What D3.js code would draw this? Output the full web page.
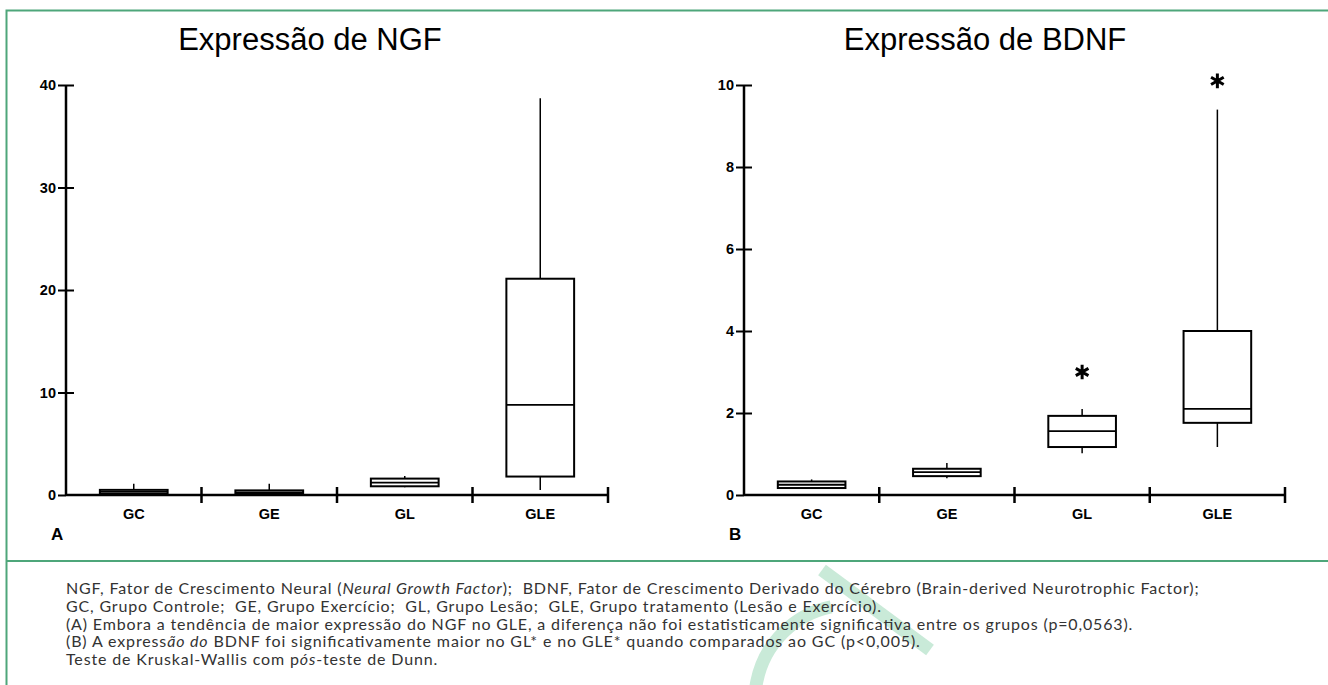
<!DOCTYPE html>
<html><head><meta charset="utf-8">
<script src="https://cdn.jsdelivr.net/npm/d3@7"></script>
<style>body{margin:0;background:#fff}svg{display:block}text{white-space:pre}</style>
</head><body><svg id="c" width="1328" height="685"></svg>
<script>
const categories = ["GC", "GE", "GL", "GLE"];
// NGF box statistics
const ngfMin = [0.0, 0.05, 0.75, 0.5];
const ngfQ1 = [0.1, 0.1, 0.85, 1.8];
const ngfMedian = [0.3, 0.25, 1.2, 8.8];
const ngfQ3 = [0.5, 0.45, 1.6, 21.1];
const ngfMax = [1.1, 1.1, 1.85, 38.7];
const ngfTicks = [0, 10, 20, 30, 40];
// BDNF box statistics
const bdnfMin = [0.15, 0.41, 1.02, 1.17];
const bdnfQ1 = [0.17, 0.46, 1.17, 1.76];
const bdnfMedian = [0.25, 0.56, 1.56, 2.1];
const bdnfQ3 = [0.33, 0.64, 1.93, 4.0];
const bdnfMax = [0.38, 0.78, 2.1, 9.4];
const bdnfStars = [null, null, 3.0, 10.1];
const bdnfTicks = [0, 2, 4, 6, 8, 10];
const titles = ["Expressão de NGF", "Expressão de BDNF"];
const panelLetters = ["A", "B"];
const captionLines = [
  [["NGF, Fator de Crescimento Neural (", 0], ["Neural Growth Factor", 1], [");  BDNF, Fator de Crescimento Derivado do Cérebro (Brain-derived Neurotrophic Factor);", 0]],
  [["GC, Grupo Controle;  GE, Grupo Exercício;  GL, Grupo Lesão;  GLE, Grupo tratamento (Lesão e Exercício).", 0]],
  [["(A) Embora a tendência de maior expressão do NGF no GLE, a diferença não foi estatisticamente significativa entre os grupos (p=0,0563).", 0]],
  [["(B) A express", 0], ["ão do", 1], [" BDNF foi significativamente maior no GL* e no GLE* quando comparados ao GC (p<0,005).", 0]],
  [["Teste de Kruskal-Wallis com p", 0], ["ós", 1], ["-teste de Dunn.", 0]]
];

const svg = d3.select("#c");
const green = "#4ea67a";

// watermark
const wm = svg.append("g").attr("fill", "none").attr("stroke", "#c9ead8").attr("stroke-width", 13);
wm.append("path").attr("d", d3.arc()({innerRadius: 95, outerRadius: 95, startAngle: -2.55, endAngle: -0.2}))
  .attr("transform", "translate(850,700)");
wm.append("line").attr("x1", 822).attr("y1", 570).attr("x2", 930).attr("y2", 650);

// frame
svg.append("rect").attr("x", 6.5).attr("y", 10.5).attr("width", 1340).attr("height", 700)
  .attr("fill", "none").attr("stroke", green).attr("stroke-width", 2);
svg.append("line").attr("x1", 6).attr("x2", 1328).attr("y1", 561).attr("y2", 561)
  .attr("stroke", green).attr("stroke-width", 2);

const panels = [
  {title: titles[0], letter: panelLetters[0], x0: 66, x1: 608, max: 40, ticks: ngfTicks,
   mins: ngfMin, q1: ngfQ1, med: ngfMedian, q3: ngfQ3, maxs: ngfMax, stars: null, titleX: 310},
  {title: titles[1], letter: panelLetters[1], x0: 744, x1: 1285, max: 10, ticks: bdnfTicks,
   mins: bdnfMin, q1: bdnfQ1, med: bdnfMedian, q3: bdnfQ3, maxs: bdnfMax, stars: bdnfStars, titleX: 985}
];

const yBottom = 495, yTop = 85;
const font = "'Liberation Sans', Arial, sans-serif";

panels.forEach(p => {
  const g = svg.append("g");
  const y = d3.scaleLinear().domain([0, p.max]).range([yBottom, yTop]);
  const x = d3.scaleBand().domain(categories).range([p.x0, p.x1]).paddingInner(0).paddingOuter(0);

  g.append("text").attr("x", p.titleX).attr("y", 50).attr("text-anchor", "middle")
    .attr("font-family", font).attr("font-size", 31).attr("fill", "#000").text(p.title);

  // y axis
  const ya = g.append("g").attr("transform", `translate(${p.x0},0)`)
    .call(d3.axisLeft(y).tickValues(p.ticks).tickSize(8).tickPadding(2).tickFormat(d3.format("d")));
  ya.select(".domain").remove();
  ya.selectAll(".tick line").attr("x1", d => d === 0 ? 0 : 8).attr("stroke", "#000").attr("stroke-width", 2);
  ya.selectAll(".tick text").attr("font-family", font).attr("font-size", 14.5).attr("font-weight", "bold").attr("fill", "#000");
  g.append("line").attr("x1", p.x0).attr("x2", p.x0).attr("y1", y(p.max)).attr("y2", y(0))
    .attr("stroke", "#000").attr("stroke-width", 2.5);

  // x axis
  g.append("line").attr("x1", p.x0).attr("x2", p.x1).attr("y1", y(0)).attr("y2", y(0))
    .attr("stroke", "#000").attr("stroke-width", 2.5);
  g.selectAll(".xt").data(categories).enter().append("line")
    .attr("x1", d => x(d) + x.bandwidth()).attr("x2", d => x(d) + x.bandwidth())
    .attr("y1", y(0) - 8).attr("y2", y(0) + 8).attr("stroke", "#000").attr("stroke-width", 2.5);
  g.selectAll(".xl").data(categories).enter().append("text")
    .attr("x", d => x(d) + x.bandwidth() / 2).attr("y", y(0) + 24).attr("text-anchor", "middle")
    .attr("font-family", font).attr("font-size", 14.5).attr("font-weight", "bold").text(d => d);
  g.append("text").attr("x", p.x0 - 15).attr("y", 540).attr("font-family", font)
    .attr("font-size", 17).attr("font-weight", "bold").text(p.letter);

  // boxes
  const bw = x.bandwidth() * 0.5;
  categories.forEach((c, i) => {
    const cx = x(c) + x.bandwidth() / 2;
    const bg = g.append("g");
    bg.append("line").attr("x1", cx).attr("x2", cx).attr("y1", y(p.maxs[i])).attr("y2", y(p.q3[i]))
      .attr("stroke", "#000").attr("stroke-width", 1.5);
    bg.append("line").attr("x1", cx).attr("x2", cx).attr("y1", y(p.q1[i])).attr("y2", y(p.mins[i]))
      .attr("stroke", "#000").attr("stroke-width", 1.5);
    bg.append("rect").attr("x", cx - bw / 2).attr("width", bw)
      .attr("y", y(p.q3[i])).attr("height", y(p.q1[i]) - y(p.q3[i]))
      .attr("fill", "#fff").attr("stroke", "#000").attr("stroke-width", 2);
    bg.append("line").attr("x1", cx - bw / 2).attr("x2", cx + bw / 2).attr("y1", y(p.med[i])).attr("y2", y(p.med[i]))
      .attr("stroke", "#000").attr("stroke-width", 1.8);
    if (p.stars && p.stars[i] != null) {
      bg.append("path").attr("d", d3.symbol(d3.symbolAsterisk, 150)())
        .attr("transform", `translate(${cx},${y(p.stars[i])})`)
        .attr("fill", "none").attr("stroke", "#000").attr("stroke-width", 3);
    }
  });
});

// caption
const cap = svg.append("g").attr("font-family", "Lato, 'Open Sans', sans-serif").attr("font-size", 16).attr("fill", "#333");
const baselines = [594, 611.75, 629.5, 647.25, 665];
captionLines.forEach((line, i) => {
  const t = cap.append("text").attr("x", 66).attr("y", baselines[i]);
  line.forEach(([s, it]) => t.append("tspan").attr("font-style", it ? "italic" : "normal").text(s));
  const w = t.node().getComputedTextLength();
  t.attr("textLength", w * 1.114).attr("lengthAdjust", "spacing");
});
</script>
</body></html>
